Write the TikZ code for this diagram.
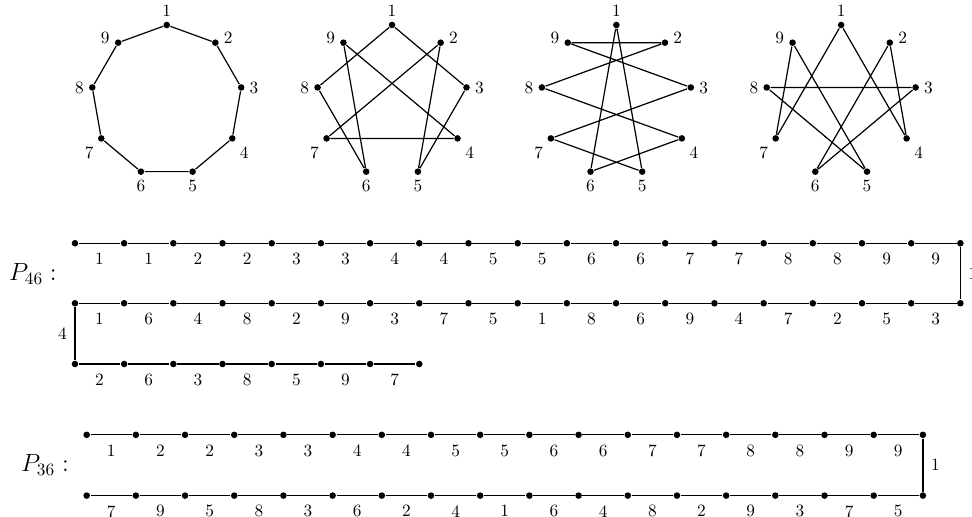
\documentclass[tikz,border=0pt]{standalone}
\usepackage{amsmath}
\usetikzlibrary{calc}

\begin{document}
\begin{tikzpicture}[line width=0.7pt,
  dot/.style={circle, fill, inner sep=0pt, minimum size=3.8pt}]
\useasboundingbox (0,0) rectangle (19.76,-10.51);

% Nonagons
\foreach \g/\cx in {a/3.39, b/7.97, c/12.53, d/17.10}
  \foreach \i/\ang/\la/\dy in {1/90/90/0pt, 2/50/0/3pt, 3/10/0/0pt, 4/-30/-50/0pt, 5/-70/-90/0pt,
                               6/-110/-90/0pt, 7/-150/-130/0pt, 8/170/180/0pt, 9/130/180/3pt}
    \node[dot, label={[label distance=-1pt, yshift=\dy]\la:\i}] (\g\i) at ($(\cx,-2.045)+(\ang:1.537)$) {};

\draw (a1) -- (a2) -- (a3) -- (a4) -- (a5) -- (a6) -- (a7) -- (a8) -- (a9) -- (a1);
\draw (b1) -- (b3) -- (b5) -- (b2) -- (b7) -- (b4) -- (b9) -- (b6) -- (b8) -- (b1);
\draw (c1) -- (c5) -- (c7) -- (c3) -- (c9) -- (c2) -- (c8) -- (c4) -- (c6) -- (c1);
\draw (d1) -- (d4) -- (d2) -- (d6) -- (d3) -- (d8) -- (d5) -- (d9) -- (d7) -- (d1);

% P_46
\node (l46) at (0.67,-5.57) {\Large $P_{46}:$};
\foreach \i in {0,...,18} \node[dot] (pa\i) at (1.524+\i,-4.945) {};
\foreach \i in {0,...,18} \node[dot] (pb\i) at (1.524+\i,-6.165) {};
\foreach \i in {0,...,7} \node[dot] (pc\i) at (1.524+\i,-7.40) {};
\foreach \l [count=\i from 0] in {1,1,2,2,3,3,4,4,5,5,6,6,7,7,8,8,9,9} {
  \pgfmathtruncatemacro\j{\i+1}
  \draw (pa\i) -- (pa\j) node[midway, below=2pt] {\l};
}
\foreach \l [count=\i from 0] in {1,6,4,8,2,9,3,7,5,1,8,6,9,4,7,2,5,3} {
  \pgfmathtruncatemacro\j{\i+1}
  \draw (pb\i) -- (pb\j) node[midway, below=2pt] {\l};
}
\foreach \l [count=\i from 0] in {2,6,3,8,5,9,7} {
  \pgfmathtruncatemacro\j{\i+1}
  \draw (pc\i) -- (pc\j) node[midway, below=2pt] {\l};
}
\draw (pa18) -- (pb18) node[midway, right=1pt] {1};
\draw (pb0) -- (pc0) node[midway, left=1pt] {4};

% P_36
\node (l36) at (0.915,-9.45) {\Large $P_{36}:$};
\foreach \i in {0,...,17} \node[dot] (qa\i) at (1.762+\i,-8.84) {};
\foreach \i in {0,...,17} \node[dot] (qb\i) at (1.762+\i,-10.075) {};
\foreach \l [count=\i from 0] in {1,2,2,3,3,4,4,5,5,6,6,7,7,8,8,9,9} {
  \pgfmathtruncatemacro\j{\i+1}
  \draw (qa\i) -- (qa\j) node[midway, below=2pt] {\l};
}
\foreach \l [count=\i from 0] in {7,9,5,8,3,6,2,4,1,6,4,8,2,9,3,7,5} {
  \pgfmathtruncatemacro\j{\i+1}
  \draw (qb\i) -- (qb\j) node[midway, below=2pt] {\l};
}
\draw (qa17) -- (qb17) node[midway, right=1pt] {1};
\end{tikzpicture}
\end{document}
